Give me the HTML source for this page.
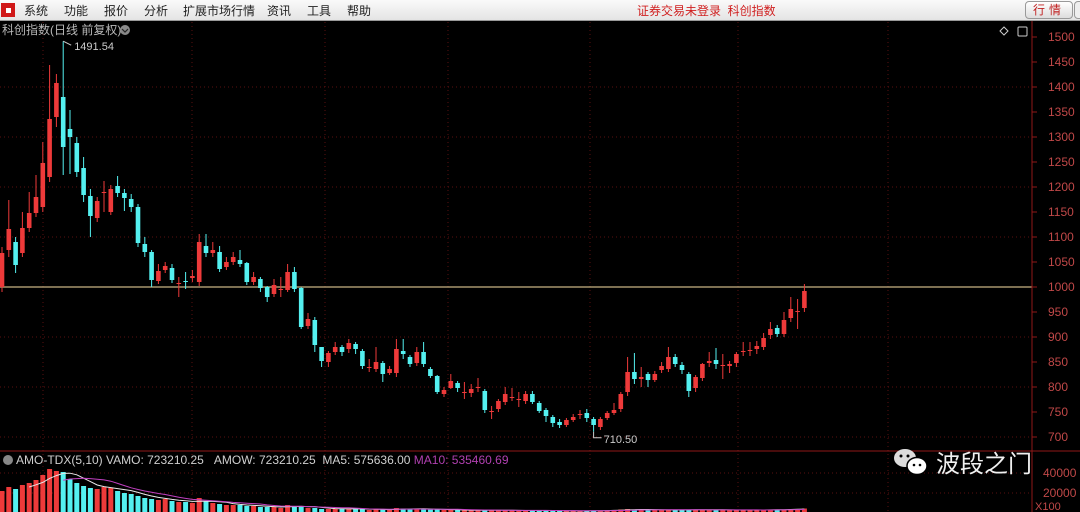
<!DOCTYPE html>
<html><head><meta charset="utf-8">
<style>
html,body{margin:0;padding:0;background:#000;width:1080px;height:512px;overflow:hidden;font-family:"Liberation Sans","Noto Sans CJK SC",sans-serif;}
#menubar{position:absolute;left:0;top:0;width:1080px;height:20px;background:linear-gradient(#fafafa,#e4e4e4);border-bottom:1px solid #999;}
.mi{position:absolute;top:2px;font-size:12px;color:#222;}
#logo{position:absolute;left:1px;top:3px;width:14px;height:14px;background:#d01818;}
#logo:after{content:"";position:absolute;left:5px;top:5px;width:5px;height:5px;background:#fff;}
#status{position:absolute;left:637px;top:2px;font-size:12px;color:#d02020;}
#btn{position:absolute;left:1025px;top:1px;width:46px;height:16px;border:1px solid #999;border-radius:4px;background:linear-gradient(#fff,#ddd);font-size:12px;color:#c02020;text-align:center;line-height:16px;letter-spacing:4px;}
#btn2{position:absolute;left:1074px;top:1px;width:10px;height:16px;border:1px solid #999;border-radius:4px;background:#eee;}
svg{position:absolute;left:0;top:0;}
</style></head><body>
<div id="menubar">
<div id="logo"></div>
<span class="mi" style="left:24px">系统</span>
<span class="mi" style="left:64px">功能</span>
<span class="mi" style="left:104px">报价</span>
<span class="mi" style="left:144px">分析</span>
<span class="mi" style="left:183px">扩展市场行情</span>
<span class="mi" style="left:267px">资讯</span>
<span class="mi" style="left:307px">工具</span>
<span class="mi" style="left:347px">帮助</span>
<span id="status">证券交易未登录&nbsp;&nbsp;科创指数</span>
<div id="btn">行情</div>
<div id="btn2"></div>
</div>
<svg id="chart" width="1080" height="512"></svg>
<script>
const opens=[1000,1074,1090,1068,1118,1148,1160,1220,1340,1380,1316,1288,1238,1182,1138,1188,1150,1202,1188,1176,1160,1086,1070,1012,1034,1038,1008,1012,1018,1010,1082,1068,1070,1040,1050,1054,1048,1010,1016,1000,986,996,994,1030,998,922,934,880,850,870,880,876,886,872,840,836,848,828,828,872,860,848,870,836,822,786,798,808,790,788,800,792,750,756,770,780,776,772,786,768,754,740,730,724,734,744,748,736,720,738,748,756,790,830,816,826,814,834,836,860,844,826,798,818,848,854,844,842,848,870,872,876,880,904,918,906,938,950,958];
const closes=[1068,1116,1044,1118,1148,1180,1248,1336,1408,1280,1300,1230,1184,1142,1172,1190,1196,1188,1178,1160,1088,1070,1014,1032,1042,1014,1008,1010,1022,1090,1068,1074,1036,1050,1060,1046,1010,1020,998,980,1004,996,1030,996,920,936,884,852,868,880,870,888,876,842,840,850,826,836,876,866,846,870,846,822,790,794,812,798,790,796,800,754,752,772,786,780,776,786,770,752,742,728,724,734,740,746,738,724,736,748,754,786,830,816,820,814,826,842,860,846,834,792,820,846,852,846,844,846,866,872,874,882,898,916,906,934,956,952,992];
const highs=[1080,1174,1100,1150,1190,1224,1290,1444,1426,1491.54,1354,1300,1260,1196,1180,1212,1204,1222,1196,1186,1166,1100,1074,1046,1050,1046,1020,1030,1034,1106,1106,1090,1082,1060,1070,1074,1050,1030,1020,1002,1016,1020,1046,1040,1000,948,940,870,872,890,884,896,890,876,856,880,852,842,896,896,864,880,890,840,824,800,826,812,810,806,818,796,762,776,800,798,790,792,792,772,758,744,736,738,746,754,756,740,740,752,768,790,860,868,840,830,832,850,880,866,850,830,824,848,870,878,866,852,870,890,890,892,908,930,924,950,980,976,1006];
const lows=[990,1060,1028,1060,1110,1140,1150,1210,1320,1224,1226,1220,1170,1100,1130,1150,1144,1180,1152,1150,1080,1060,1000,1006,1028,1008,980,996,1010,1002,1060,1060,1030,1034,1044,1040,1004,1004,990,970,980,980,990,990,916,916,870,840,840,864,862,868,866,836,830,830,810,824,820,856,840,842,840,818,786,780,796,790,776,780,790,748,736,750,764,772,760,766,766,748,730,720,718,720,730,736,730,710.5,714,734,744,750,782,806,800,800,810,828,830,840,826,780,790,812,840,836,816,828,840,862,862,866,874,896,900,900,930,916,950];
const volumes=[22000,26000,24000,28000,30000,33000,38000,44000,42000,41000,34000,30000,27000,25000,24000,26000,25000,22000,20000,19000,17000,15000,14000,13000,14000,12000,11000,11000,10000,15000,12000,10000,9000,8000,8000,8000,7000,7000,6000,6000,6000,5000,8000,7000,7000,5000,5000,4000,4000,4000,4000,4500,4000,4000,3000,3500,3500,3000,5000,4500,4000,4000,4000,3500,3500,3000,3000,3000,2500,2500,2500,3000,3000,2500,2500,2500,2500,2500,2500,2500,2500,2500,2000,2000,2000,2000,2500,2500,2500,2500,3000,3500,4000,3500,3500,3000,3000,3000,3000,3500,3000,3000,3500,3500,3000,3000,3000,3000,3000,3000,3000,3000,3000,3500,3500,3500,4000,4000,4500];
const priceTicks=[1500,1450,1400,1350,1300,1250,1200,1150,1100,1050,1000,950,900,850,800,750,700];
const gridPrices=[1400,1300,1200,1100,900,800,700];
const volTicks=[40000,20000];

const svg=document.getElementById('chart');
const NS='http://www.w3.org/2000/svg';
const yP=v=>37+(1500-v)*0.5;
const xC=i=>2+i*6.8;
const yV=v=>513-v/1000;
function mk(tag,attrs,parent){const e=document.createElementNS(NS,tag);for(const k in attrs)e.setAttribute(k,attrs[k]);(parent||svg).appendChild(e);return e;}

// grid
const gx=[43,192,325,448,590,738,888];
gridPrices.forEach(p=>{const l=mk('line',{x1:0,x2:1032,y1:yP(p),y2:yP(p),stroke:'#5a1010','stroke-dasharray':'1,3'});

});
gx.forEach(x=>{const l=mk('line',{x1:x,x2:x,y1:22,y2:512,stroke:'#5a1010','stroke-dasharray':'1,3'});

});
volTicks.forEach(v=>{const l=mk('line',{x1:0,x2:1032,y1:yV(v),y2:yV(v),stroke:'#5a1010','stroke-dasharray':'1,3'});

});

// 1000 reference line
const ref=mk('line',{x1:0,x2:1032,y1:yP(1000),y2:yP(1000),stroke:'#c8b482','stroke-width':1.2});



// axis
const ax=mk('line',{x1:1032,x2:1032,y1:21,y2:512,stroke:'#901818'});


const sep=mk('line',{x1:0,x2:1080,y1:451,y2:451,stroke:'#901818'});


priceTicks.forEach(p=>{
 const t=mk('line',{x1:1032,x2:1037,y1:yP(p),y2:yP(p),stroke:'#901818'});
 
 
 const tx=mk('text',{x:1048,y:yP(p)+4,fill:'#c04848','font-size':12,'font-family':'Liberation Sans, sans-serif'});
 tx.textContent=p;
 
 
});
volTicks.forEach(v=>{
 const tx=mk('text',{x:1043,y:yV(v)+4,fill:'#c04848','font-size':12,'font-family':'Liberation Sans, sans-serif'});
 tx.textContent=v;
 
 
});
const xu=mk('text',{x:1035,y:510,fill:'#c04848','font-size':11});
xu.textContent='X100';



// candles
const RED='#ee3a3a',CYAN='#54f0f0';
for(let i=0;i<opens.length;i++){
 const o=opens[i],c=closes[i],up=c>=o,col=up?RED:CYAN,x=xC(i);
 const g=mk('g',{});
 
 
 mk('line',{x1:x,x2:x,y1:yP(highs[i]),y2:yP(lows[i]),stroke:col},g);
 const top=yP(Math.max(o,c)),h=Math.max(1,Math.abs(yP(o)-yP(c)));
 mk('rect',{x:x-2.3,y:top,width:4.6,height:h,fill:col},g);
 const vb=mk('rect',{x:x-2.5,y:yV(volumes[i]),width:5,height:volumes[i]/1000,fill:col});
 
 
}
// volume MAs
function ma(n){return volumes.map((v,i)=>{if(i<n-1)return null;let s=0;for(let k=i-n+1;k<=i;k++)s+=volumes[k];return s/n;});}
[[5,'#e8e8e8'],[10,'#c040c0']].forEach(([n,col])=>{
 const pts=ma(n).map((v,i)=>v==null?null:xC(i)+','+yV(v)).filter(Boolean).join(' ');
 const pl=mk('polyline',{points:pts,fill:'none',stroke:col,'stroke-width':1});
 
 
});
// annotations
const hiI=highs.indexOf(Math.max(...highs)),loI=lows.indexOf(Math.min(...lows));
const a1=mk('path',{d:`M${xC(hiI)},${yP(highs[hiI])} L${xC(hiI)+8},${yP(highs[hiI])+4}`,stroke:'#ccc',fill:'none'});


const t1=mk('text',{x:xC(hiI)+11,y:yP(highs[hiI])+9,fill:'#ccc','font-size':11});
t1.textContent=highs[hiI].toFixed(2);


const a2=mk('path',{d:`M${xC(loI)},${yP(lows[loI])} L${xC(loI)},${yP(lows[loI])+6} L${xC(loI)+8},${yP(lows[loI])+6}`,stroke:'#ccc',fill:'none'});


const t2=mk('text',{x:xC(loI)+10,y:yP(lows[loI])+11,fill:'#ccc','font-size':11});
t2.textContent=lows[loI].toFixed(2);


</script>
<svg width="1080" height="512" style="pointer-events:none">
<text x="2" y="34" fill="#b8b8b8" font-size="12" font-family="Liberation Sans, Noto Sans CJK SC, sans-serif">科创指数(日线 前复权)</text>
<circle cx="125" cy="30" r="5" fill="#888"/>
<path d="M122,29 L125,32 L128,29" stroke="#222" fill="none" stroke-width="1.2"/>
<path d="M1000,31 L1004,27 L1008,31 L1004,35 Z" stroke="#ccc" fill="none"/>
<rect x="1018" y="27" width="9" height="9" stroke="#ccc" fill="none" rx="1"/>
<circle cx="8" cy="460" r="5" fill="#888"/>
<text x="16" y="464" font-size="12" font-family="Liberation Sans, sans-serif"><tspan fill="#cfcfcf">AMO-TDX(5,10) VAMO: 723210.25&#160;&#160;&#160;AMOW: 723210.25&#160;&#160;MA5: 575636.00 </tspan><tspan fill="#b040b0">MA10: 535460.69</tspan></text>
<g>
<ellipse cx="905" cy="458" rx="11" ry="9" fill="#ddd"/>
<ellipse cx="917" cy="466" rx="10" ry="8.5" fill="#fff" stroke="#000" stroke-width="1.5"/>
<circle cx="901" cy="456" r="1.5" fill="#000"/><circle cx="908" cy="456" r="1.5" fill="#000"/>
<circle cx="914" cy="465" r="1.3" fill="#000"/><circle cx="920" cy="465" r="1.3" fill="#000"/>
<text x="936" y="472" fill="#f0f0f0" font-size="24" font-family="Noto Sans CJK SC, sans-serif">波段之门</text>
</g>
</svg>
</body></html>
